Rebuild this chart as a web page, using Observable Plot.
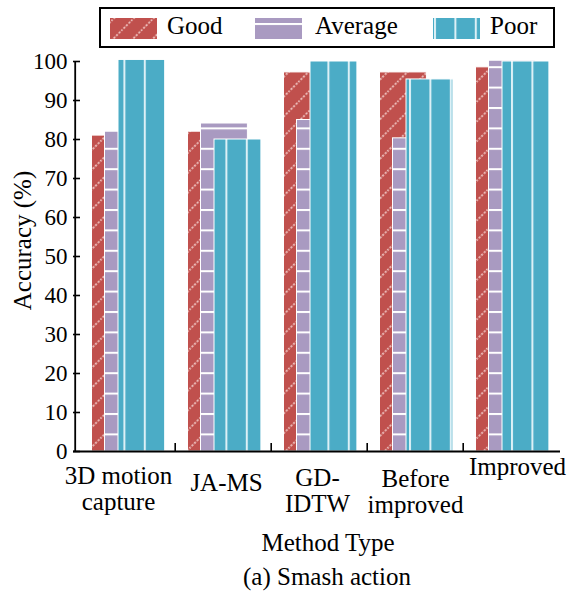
<!DOCTYPE html>
<html><head><meta charset="utf-8">
<script src="https://cdn.jsdelivr.net/npm/d3@7"></script>
<script src="https://cdn.jsdelivr.net/npm/@observablehq/plot@0.6"></script>
<style>
body{margin:0;background:#fff;font-family:'Liberation Serif','DejaVu Serif','Times New Roman',Times,serif;color:#000;}
#wrap{position:relative;width:567px;height:593px;}
#legend{position:absolute;left:99px;top:7px;width:452px;height:37px;border:2px solid #000;background:#fff;font-size:25px;}
#legend .sw{position:absolute;top:9px;width:47px;height:21px;}
#legend .lb{position:absolute;top:2px;line-height:30px;white-space:nowrap;}
#caption{position:absolute;left:177px;width:300px;top:563px;height:28px;line-height:28px;text-align:center;font-size:25px;}
</style></head><body>
<svg width="0" height="0" style="position:absolute">
<defs>
<pattern id="pGood" patternUnits="userSpaceOnUse" width="14" height="14" patternTransform="rotate(45)">
<rect width="14" height="14" fill="#C0504D"/>
<line x1="3" y1="-1" x2="3" y2="15" stroke="#fbe3e0" stroke-width="1.5" stroke-dasharray="2 1.6"/>
</pattern>
<pattern id="pAvg" patternUnits="userSpaceOnUse" width="20.4" height="20.4" y="5">
<rect width="20.4" height="20.4" fill="#A99AC1"/>
<line x1="-1" y1="1" x2="22" y2="1" stroke="#ffffff" stroke-width="2"/>
</pattern>
<pattern id="pPoor" patternUnits="userSpaceOnUse" width="20.4" height="20.4" x="1">
<rect width="20.4" height="20.4" fill="#4BACC6"/>
<line x1="1" y1="-1" x2="1" y2="22" stroke="#dcf0f6" stroke-width="2"/>
</pattern>
</defs>
</svg>
<div id="wrap">
<div id="chart"></div>
<div id="legend">
<svg class="sw" style="left:9px"><rect width="47" height="21" fill="url(#pGood)"/></svg>
<span class="lb" style="left:66px">Good</span>
<svg class="sw" style="left:154px"><rect width="47" height="21" fill="url(#pAvg)"/></svg>
<span class="lb" style="left:214px">Average</span>
<svg class="sw" style="left:332px"><rect width="47" height="21" fill="url(#pPoor)"/></svg>
<span class="lb" style="left:389px">Poor</span>
</div>
<div id="caption">(a) Smash action</div>
</div>
<script>
const methods = ["3D motion capture", "JA-MS", "GD-IDTW", "Before improved", "Improved"];
const tickLabels = ["3D motion\ncapture", "JA-MS", "GD-\nIDTW", "Before\nimproved", "Improved"];
const good = [81, 82, 97.2, 97.2, 98.5];
const average = [82, 84.1, 85, 80.3, 100.2];
const poor = [100.4, 80, 100, 95.4, 100];
const yTicks = [0, 10, 20, 30, 40, 50, 60, 70, 80, 90, 100];

const W = 567, H = 560, mL = 73, mR = 7, mT = 61, mB = 109, xInset = 4;
const bw = (W - mL - mR - xInset) / methods.length;
const frameH = H - mT - mB;
const FONT = "'Liberation Serif','DejaVu Serif','Times New Roman',Times,serif";

const rows = vals => methods.map((m, i) => ({m, v: vals[i]}));
const barStyle = {x: "m", y: "v", stroke: "white", strokeWidth: 1};
// per-label placement tweaks (style only)
const labelDx = [-9, 3, -2, 0, 6];
const labelDy = [14, 21, 16, 17, 5];

const chart = Plot.plot({
  width: W, height: H,
  marginLeft: mL, marginRight: mR, marginTop: mT, marginBottom: mB,
  style: {fontFamily: FONT, fontSize: "23px", color: "#000", background: "transparent"},
  x: {domain: methods, padding: 0, insetLeft: xInset, axis: null},
  y: {domain: [0, 100], axis: null},
  marks: [
    Plot.barY(rows(good), {...barStyle, fill: "url(#pGood)", insetLeft: 12.5, insetRight: bw - 12.5 - 47.5}),
    Plot.barY(rows(average), {...barStyle, fill: "url(#pAvg)", insetLeft: 25.5, insetRight: bw - 25.5 - 47.5}),
    Plot.barY(rows(poor), {...barStyle, fill: "url(#pPoor)", insetLeft: 39, insetRight: bw - 39 - 47.5}),
    Plot.ruleY([0], {stroke: "black", strokeWidth: 1.8}),
    Plot.ruleX([methods[0]], {stroke: "black", strokeWidth: 1.8, dx: -(bw / 2 + xInset)}),
    Plot.ruleY(yTicks, {stroke: "black", strokeWidth: 1.6, insetRight: W - mL - mR - 7}),
    Plot.ruleX(methods.slice(1), {stroke: "black", strokeWidth: 1.6, dx: -bw / 2, insetTop: frameH - 8}),
    Plot.axisY({ticks: yTicks, tickSize: 0, tickPadding: 6, label: null, fontSize: 23, fontFamily: FONT}),
    ...methods.map((m, i) => Plot.text([m], {x: d => d, text: () => tickLabels[i], frameAnchor: "bottom", lineAnchor: "top", lineHeight: 1.04, dx: labelDx[i], dy: labelDy[i], fontSize: 25, fontFamily: FONT, fill: "black"})),
    Plot.text(["Method Type"], {text: d => d, frameAnchor: "bottom", lineAnchor: "middle", dx: 11, dy: 91, fontSize: 25, fontFamily: FONT, fill: "black"}),
    Plot.text(["Accuracy (%)"], {text: d => d, frameAnchor: "left", rotate: -90, textAnchor: "middle", lineAnchor: "middle", dx: -51, dy: -16, fontSize: 25, fontFamily: FONT, fill: "black"})
  ]
});
document.getElementById("chart").appendChild(chart);
</script>
</body></html>
